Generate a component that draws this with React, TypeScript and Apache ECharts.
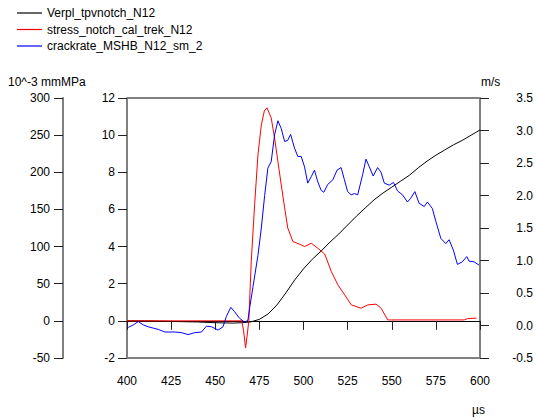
import React, { useEffect, useRef } from "react";
import * as echarts from "echarts";

const seriesNames = ["Verpl_tpvnotch_N12", "stress_notch_cal_trek_N12", "crackrate_MSHB_N12_sm_2"];

const blackX = [400, 410, 420, 430, 440, 450, 460, 465, 470, 475, 480, 485, 490, 495, 500, 505, 510, 515, 520, 525, 530, 535, 540, 545, 550, 555, 560, 565, 570, 575, 580, 585, 590, 595, 600];
const blackY = [0, 0, -0.5, -1, -1.5, -2.5, -3, -2.5, -1.5, 2, 9.4, 21.5, 37.6, 55, 70, 83, 94, 106, 117, 129, 141, 152, 163, 172, 180, 188, 196, 206, 215, 223, 230, 237, 243, 250, 257];

const redX = [400, 430, 460, 465, 466, 467.2, 468.3, 469, 470.4, 472.3, 474.2, 476.1, 477.8, 479.3, 481.7, 483.6, 485.5, 487.4, 489.3, 491.1, 494, 498.7, 500.6, 504.4, 508.1, 512, 515.8, 519.5, 523.3, 527.1, 532.7, 536.4, 541.1, 544, 547.7, 550, 570, 591, 593, 598];
const redY = [0, 0, 0, 0, -0.5, -1.45, -0.6, 0, 3.2, 6.25, 8.94, 10.55, 11.3, 11.47, 10.93, 9.85, 8.58, 7.32, 6.09, 5.0, 4.27, 4.09, 4.0, 4.18, 3.91, 3.6, 2.65, 1.94, 1.4, 0.86, 0.68, 0.86, 0.9, 0.68, 0.05, 0.05, 0.05, 0.05, 0.12, 0.15];

const blueX = [400.7, 403.6, 406.4, 409.2, 412, 414.9, 417.7, 421.5, 427.1, 430.9, 434.6, 438.4, 442.2, 445, 447.9, 451.6, 454.4, 456.3, 458.8, 461, 463.8, 466.7, 468.5, 469.5, 471.4, 474.2, 476.1, 478, 479.8, 481.7, 483.6, 485.5, 487.4, 489.3, 491.1, 492.7, 494.9, 496.8, 498.7, 500.6, 502.4, 504.4, 506.2, 508.1, 510, 511.5, 513.7, 516.6, 519, 521.3, 523.2, 525, 527, 528.8, 530.7, 533.5, 535.4, 537.3, 539.5, 542, 543.9, 545.8, 548.6, 551, 553.3, 556.1, 558.9, 560.8, 563.1, 565.5, 568.4, 570.2, 573, 575, 577.8, 580.6, 582.5, 584.9, 587.2, 590, 592.5, 593.8, 596.6, 599.4];
const blueY = [-0.03, 0.01, 0.06, 0.01, -0.02, -0.04, -0.06, -0.1, -0.1, -0.11, -0.14, -0.11, -0.1, -0.01, -0.02, -0.07, -0.02, 0.14, 0.28, 0.21, 0.11, 0.05, 0.08, 0.27, 0.6, 1.08, 1.5, 2.0, 2.42, 2.52, 2.93, 3.15, 3.03, 2.83, 2.85, 2.94, 2.73, 2.6, 2.6, 2.44, 2.19, 2.29, 2.39, 2.21, 2.08, 2.05, 2.17, 2.24, 2.39, 2.43, 2.24, 2.06, 2.01, 2.03, 2.01, 2.32, 2.56, 2.44, 2.3, 2.43, 2.36, 2.19, 2.16, 2.2, 2.07, 2.01, 1.9, 1.96, 2.06, 1.88, 1.83, 1.9, 1.8, 1.6, 1.34, 1.26, 1.32, 1.16, 0.94, 0.98, 1.06, 0.99, 0.98, 0.93];

const xTicks = { min: 400, max: 600, interval: 25 };
const leftOuterTicks = { min: -50, max: 300, interval: 50 };
const leftInnerTicks = { min: -2, max: 12, interval: 2 };
const rightTicks = { min: -0.5, max: 3.5, interval: 0.5 };

const unitLeft = "10^-3 mmMPa";
const unitRight = "m/s";
const unitX = "µs";

const FONT = "'Liberation Sans', Arial, sans-serif";

const pair = (xs: number[], ys: number[]) => xs.map((x, i) => [x, ys[i]]);

export default function App() {
  const ref = useRef<HTMLDivElement>(null);
  useEffect(() => {
    if (!ref.current) return;
    const chart = echarts.init(ref.current, undefined, { renderer: "svg" });
    const axisLineGray = { show: true, lineStyle: { color: "#808080", width: 2 } };
    const tick = { show: true, inside: false, length: 9, lineStyle: { color: "#222", width: 1 } };
    const label = (margin: number, extra: any = {}) => ({ color: "#000", fontSize: 12, fontFamily: FONT, margin, ...extra });
    chart.setOption({
      animation: false,
      backgroundColor: "#fff",
      textStyle: { fontFamily: FONT },
      legend: {
        orient: "vertical",
        left: 12,
        top: 1,
        itemWidth: 25,
        itemHeight: 1.2,
        itemGap: 2.5,
        icon: "rect",
        textStyle: { fontSize: 12, color: "#000", fontFamily: FONT, lineHeight: 14 },
        data: seriesNames,
      },
      grid: { left: 127, right: 55, top: 98, bottom: 61, show: true, borderColor: "#000", borderWidth: 1, backgroundColor: "transparent" },
      xAxis: {
        type: "value",
        ...xTicks,
        axisLine: { show: true, lineStyle: { color: "#000", width: 1 } },
        axisTick: tick,
        axisLabel: label(17),
        splitLine: { show: false },
      },
      yAxis: [
        {
          type: "value",
          position: "left",
          offset: 64,
          ...leftOuterTicks,
          axisLine: axisLineGray,
          axisTick: tick,
          axisLabel: label(13),
          splitLine: { show: false },
        },
        {
          type: "value",
          position: "left",
          ...leftInnerTicks,
          axisLine: axisLineGray,
          axisTick: tick,
          axisLabel: label(12),
          splitLine: { show: false },
        },
        {
          type: "value",
          position: "right",
          ...rightTicks,
          axisLine: axisLineGray,
          axisTick: tick,
          axisLabel: label(53, { align: "right", formatter: (v: number) => v.toFixed(1) }),
          splitLine: { show: false },
        },
      ],
      graphic: [
        { type: "text", left: 8, top: 76, style: { text: unitLeft, fill: "#000", fontSize: 12, fontFamily: FONT } },
        { type: "text", left: 481, top: 76, style: { text: unitRight, fill: "#000", fontSize: 12, fontFamily: FONT } },
        { type: "text", left: 472, top: 404, style: { text: unitX, fill: "#000", fontSize: 12, fontFamily: FONT } },
      ],
      series: [
        { name: seriesNames[0], type: "line", yAxisIndex: 0, data: pair(blackX, blackY), symbol: "none", lineStyle: { color: "#000", width: 1 }, itemStyle: { color: "#000" } },
        { name: seriesNames[1], type: "line", yAxisIndex: 1, data: pair(redX, redY), symbol: "none", lineStyle: { color: "#ff0000", width: 1 }, itemStyle: { color: "#ff0000" } },
        { name: seriesNames[2], type: "line", yAxisIndex: 2, data: pair(blueX, blueY), symbol: "none", lineStyle: { color: "#0000ff", width: 1 }, itemStyle: { color: "#0000ff" } },
      ],
    });
    return () => chart.dispose();
  }, []);
  return <div ref={ref} style={{ position: "fixed", left: 0, top: 0, width: 536, height: 419 }} />;
}
